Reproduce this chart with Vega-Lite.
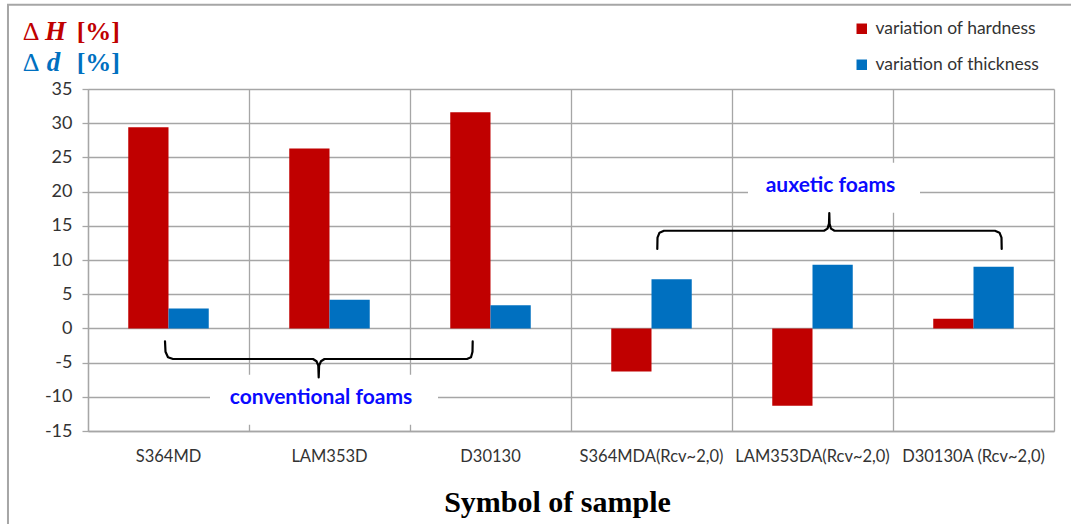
{
  "$schema": "https://vega.github.io/schema/vega-lite/v6.json",
  "width": 966,
  "height": 342,
  "autosize": "none",
  "padding": {"left": 88, "top": 89, "right": 17, "bottom": 93},
  "background": "white",
  "config": {"view": {"stroke": null}},
  "datasets": {
    "bars": [
      {"sample": "S364MD", "series": "variation of hardness", "value": 29.4},
      {"sample": "S364MD", "series": "variation of thickness", "value": 2.9},
      {"sample": "LAM353D", "series": "variation of hardness", "value": 26.3},
      {"sample": "LAM353D", "series": "variation of thickness", "value": 4.2},
      {"sample": "D30130", "series": "variation of hardness", "value": 31.6},
      {"sample": "D30130", "series": "variation of thickness", "value": 3.4},
      {"sample": "S364MDA(Rcv~2,0)", "series": "variation of hardness", "value": -6.3},
      {"sample": "S364MDA(Rcv~2,0)", "series": "variation of thickness", "value": 7.2},
      {"sample": "LAM353DA(Rcv~2,0)", "series": "variation of hardness", "value": -11.3},
      {"sample": "LAM353DA(Rcv~2,0)", "series": "variation of thickness", "value": 9.3},
      {"sample": "D30130A (Rcv~2,0)", "series": "variation of hardness", "value": 1.4},
      {"sample": "D30130A (Rcv~2,0)", "series": "variation of thickness", "value": 9.0}
    ],
    "braces": [
      {"brace": "conventional", "i": 1, "x": 0.4783, "y": -1.9},
      {"brace": "conventional", "i": 2, "x": 0.4814, "y": -3.41},
      {"brace": "conventional", "i": 3, "x": 0.4969, "y": -4.21},
      {"brace": "conventional", "i": 4, "x": 0.528, "y": -4.47},
      {"brace": "conventional", "i": 5, "x": 1.3975, "y": -4.47},
      {"brace": "conventional", "i": 6, "x": 1.4193, "y": -4.8},
      {"brace": "conventional", "i": 7, "x": 1.4304, "y": -5.45},
      {"brace": "conventional", "i": 8, "x": 1.4329, "y": -7.16},
      {"brace": "conventional", "i": 9, "x": 1.4354, "y": -5.45},
      {"brace": "conventional", "i": 10, "x": 1.4472, "y": -4.8},
      {"brace": "conventional", "i": 11, "x": 1.4689, "y": -4.47},
      {"brace": "conventional", "i": 12, "x": 2.354, "y": -4.47},
      {"brace": "conventional", "i": 13, "x": 2.3789, "y": -4.21},
      {"brace": "conventional", "i": 14, "x": 2.3882, "y": -3.41},
      {"brace": "conventional", "i": 15, "x": 2.3894, "y": -1.9},
      {"brace": "auxetic", "i": 1, "x": 3.536, "y": 11.61},
      {"brace": "auxetic", "i": 2, "x": 3.5373, "y": 13.26},
      {"brace": "auxetic", "i": 3, "x": 3.5497, "y": 13.99},
      {"brace": "auxetic", "i": 4, "x": 3.5776, "y": 14.28},
      {"brace": "auxetic", "i": 5, "x": 4.5714, "y": 14.28},
      {"brace": "auxetic", "i": 6, "x": 4.5932, "y": 14.58},
      {"brace": "auxetic", "i": 7, "x": 4.6025, "y": 15.31},
      {"brace": "auxetic", "i": 8, "x": 4.6043, "y": 16.87},
      {"brace": "auxetic", "i": 9, "x": 4.6062, "y": 15.31},
      {"brace": "auxetic", "i": 10, "x": 4.6149, "y": 14.58},
      {"brace": "auxetic", "i": 11, "x": 4.6366, "y": 14.28},
      {"brace": "auxetic", "i": 12, "x": 5.6335, "y": 14.28},
      {"brace": "auxetic", "i": 13, "x": 5.6615, "y": 13.99},
      {"brace": "auxetic", "i": 14, "x": 5.6739, "y": 13.26},
      {"brace": "auxetic", "i": 15, "x": 5.6752, "y": 11.61}
    ],
    "boxes": [
      {"x": 0.7578, "x2": 2.1739, "y": -6.77, "y2": -14.08},
      {"x": 4.0994, "x2": 5.1677, "y": 24.23, "y2": 16.92}
    ],
    "groups": [
      {"label": "conventional foams", "x": 1.4472, "y": -10.13},
      {"label": "auxetic foams", "x": 4.6118, "y": 20.79}
    ],
    "frame": [
      {"x": -0.497, "x2": 6.4, "y": 47.32, "y2": -32}
    ],
    "heads": [
      {"line": "H", "delta": "Δ", "sym": "H", "unit": "[%]", "xd": -0.4056, "xs": -0.2671, "xu": -0.0702, "y": 42.21},
      {"line": "d", "delta": "Δ", "sym": "d", "unit": "[%]", "xd": -0.4056, "xs": -0.2565, "xu": -0.0702, "y": 37.57}
    ]
  },
  "layer": [
    {
      "data": {"name": "bars"},
      "mark": {"type": "bar"},
      "encoding": {
        "x": {
          "field": "sample", "type": "nominal", "sort": null,
          "scale": {"paddingInner": 0, "paddingOuter": 0},
          "axis": {
            "title": "Symbol of sample", "labelAngle": 0, "ticks": false, "tickSize": 0,
            "labelPadding": 17, "labelFont": "Lato", "labelFontSize": 16.5, "labelColor": "#333333",
            "labelOverlap": false, "labelLimit": 300, "domainColor": "#a6a6a6", "domainWidth": 1.3,
            "grid": false, "titleFont": "Liberation Serif", "titleFontSize": 30, "titleFontWeight": "bold",
            "titleColor": "black", "titleX": 469, "titleY": 80, "titleBaseline": "alphabetic"
          }
        },
        "xOffset": {
          "field": "series", "type": "nominal",
          "sort": ["variation of hardness", "variation of thickness"],
          "scale": {"paddingInner": 0, "paddingOuter": 1}
        },
        "y": {
          "field": "value", "type": "quantitative",
          "scale": {"domain": [-15, 35], "nice": false, "zero": false},
          "axis": {
            "title": null, "values": [-15, -10, -5, 0, 5, 10, 15, 20, 25, 30, 35],
            "labelExpr": "datum.value + ''",
            "grid": true, "gridColor": "#a6a6a6", "gridWidth": 1.3,
            "tickColor": "#a6a6a6", "tickSize": 6, "tickWidth": 1.3, "labelPadding": 10,
            "labelFont": "Lato", "labelFontSize": 18, "labelColor": "#333333",
            "domainColor": "#a6a6a6", "domainWidth": 1.3
          }
        },
        "color": {
          "field": "series", "type": "nominal",
          "scale": {"domain": ["variation of hardness", "variation of thickness"], "range": ["#c00000", "#0070c0"]},
          "legend": {
            "title": null, "orient": "none", "legendX": 765, "legendY": -69, "padding": 0,
            "symbolType": "square", "symbolSize": 110, "symbolStrokeWidth": 0,
            "labelFont": "Lato", "labelFontSize": 17.5, "labelColor": "#333333",
            "labelOffset": 5, "rowPadding": 17, "labelLimit": 400
          }
        }
      }
    },
    {
      "data": {"name": "frame"},
      "mark": {"type": "rect", "filled": false, "stroke": "#a6a6a6", "strokeWidth": 2},
      "encoding": {
        "x": {"field": "x", "type": "quantitative", "scale": {"domain": [0, 6], "nice": false, "zero": false}, "axis": null},
        "x2": {"field": "x2"},
        "y": {"field": "y", "type": "quantitative", "scale": {"domain": [-15, 35], "nice": false, "zero": false}, "axis": null},
        "y2": {"field": "y2"}
      }
    },
    {
      "data": {"name": "boxes"},
      "mark": {"type": "rect", "fill": "white"},
      "encoding": {
        "x": {
          "field": "x", "type": "quantitative", "scale": {"domain": [0, 6], "nice": false, "zero": false},
          "axis": {"orient": "top", "values": [0, 1, 2, 3, 4, 5, 6], "grid": true, "gridColor": "#a6a6a6", "gridWidth": 1.3, "labels": false, "ticks": false, "domain": false, "title": null}
        },
        "x2": {"field": "x2"},
        "y": {"field": "y", "type": "quantitative", "scale": {"domain": [-15, 35], "nice": false, "zero": false}, "axis": null},
        "y2": {"field": "y2"}
      }
    },
    {
      "data": {"name": "braces"},
      "mark": {"type": "line", "color": "black", "strokeWidth": 2.2, "strokeJoin": "round", "strokeCap": "round"},
      "encoding": {
        "x": {"field": "x", "type": "quantitative", "scale": {"domain": [0, 6], "nice": false, "zero": false}, "axis": null},
        "y": {"field": "y", "type": "quantitative", "scale": {"domain": [-15, 35], "nice": false, "zero": false}, "axis": null},
        "detail": {"field": "brace"},
        "order": {"field": "i", "type": "quantitative"}
      }
    },
    {
      "data": {"name": "groups"},
      "mark": {"type": "text", "font": "Lato", "fontWeight": "bold", "fontSize": 21, "color": "#0a0aff", "align": "center", "baseline": "middle"},
      "encoding": {
        "x": {"field": "x", "type": "quantitative", "scale": {"domain": [0, 6], "nice": false, "zero": false}, "axis": null},
        "y": {"field": "y", "type": "quantitative", "scale": {"domain": [-15, 35], "nice": false, "zero": false}, "axis": null},
        "text": {"field": "label"}
      }
    },
    {
      "data": {"name": "heads"},
      "mark": {"type": "text", "font": "Liberation Serif", "fontSize": 26, "align": "left", "baseline": "alphabetic"},
      "encoding": {
        "x": {"field": "xd", "type": "quantitative", "scale": {"domain": [0, 6], "nice": false, "zero": false}, "axis": null},
        "y": {"field": "y", "type": "quantitative", "scale": {"domain": [-15, 35], "nice": false, "zero": false}, "axis": null},
        "text": {"field": "delta"},
        "color": {"condition": {"test": "datum.line === 'H'", "value": "#c00000"}, "value": "#0070c0"}
      }
    },
    {
      "data": {"name": "heads"},
      "mark": {"type": "text", "font": "Liberation Serif", "fontSize": 27, "fontWeight": "bold", "fontStyle": "italic", "align": "left", "baseline": "alphabetic"},
      "encoding": {
        "x": {"field": "xs", "type": "quantitative", "scale": {"domain": [0, 6], "nice": false, "zero": false}, "axis": null},
        "y": {"field": "y", "type": "quantitative", "scale": {"domain": [-15, 35], "nice": false, "zero": false}, "axis": null},
        "text": {"field": "sym"},
        "color": {"condition": {"test": "datum.line === 'H'", "value": "#c00000"}, "value": "#0070c0"}
      }
    },
    {
      "data": {"name": "heads"},
      "mark": {"type": "text", "font": "Liberation Serif", "fontSize": 26, "fontWeight": "bold", "align": "left", "baseline": "alphabetic"},
      "encoding": {
        "x": {"field": "xu", "type": "quantitative", "scale": {"domain": [0, 6], "nice": false, "zero": false}, "axis": null},
        "y": {"field": "y", "type": "quantitative", "scale": {"domain": [-15, 35], "nice": false, "zero": false}, "axis": null},
        "text": {"field": "unit"},
        "color": {"condition": {"test": "datum.line === 'H'", "value": "#c00000"}, "value": "#0070c0"}
      }
    }
  ],
  "resolve": {"scale": {"x": "independent"}, "axis": {"x": "independent", "y": "independent"}}
}
